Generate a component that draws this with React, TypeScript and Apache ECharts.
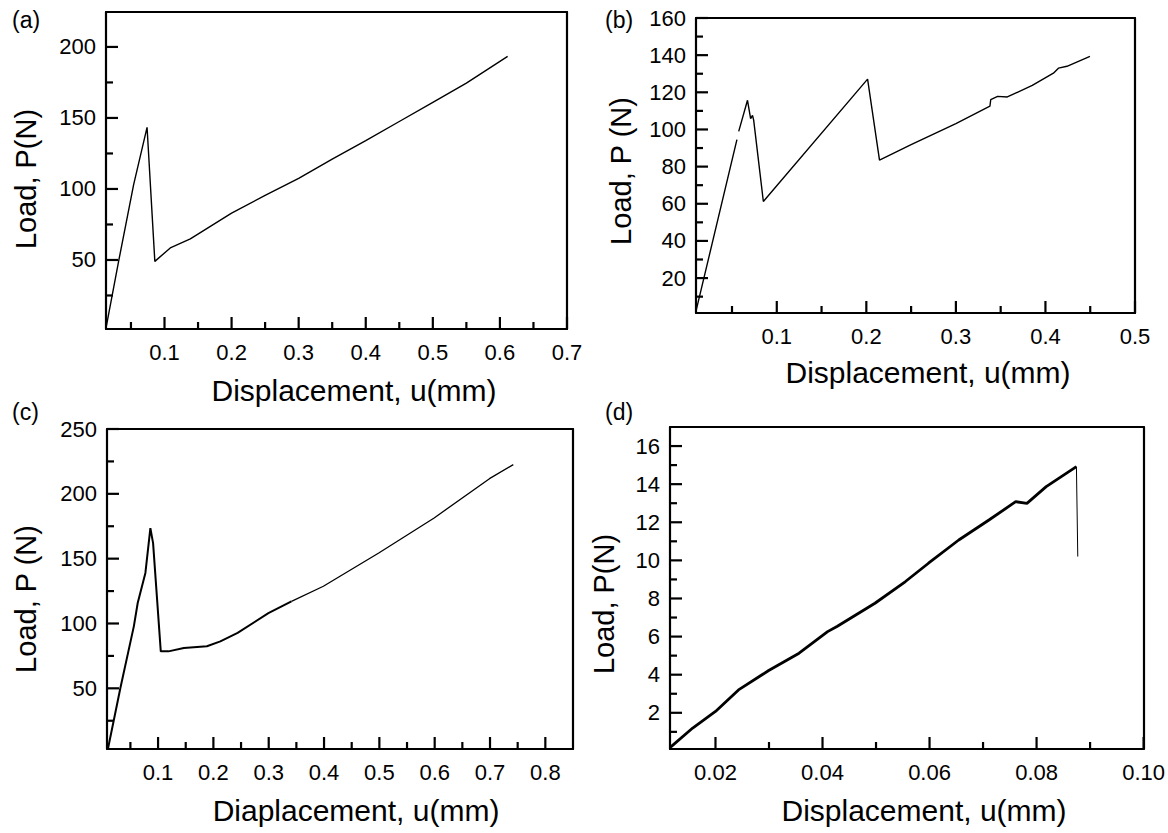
import React, { useEffect, useRef } from "react";
import * as echarts from "echarts";

const FONT = '"Liberation Sans", Arial, Helvetica, sans-serif';

// Panel (a)
const aX = [0.0128, 0.032, 0.054, 0.074, 0.0856, 0.1086, 0.1385, 0.2, 0.25, 0.3, 0.35, 0.4, 0.45, 0.5, 0.55, 0.6115];
const aY = [2, 50, 103, 143.4, 49, 58.5, 64.8, 83, 95.5, 107.5, 121, 134, 147.5, 161, 174.5, 193.4];
const aXTicks = [0.1, 0.2, 0.3, 0.4, 0.5, 0.6, 0.7];
const aXMinor = [0.05, 0.15, 0.25, 0.35, 0.45, 0.55, 0.65];
const aYTicks = [50, 100, 150, 200];
const aYMinor = [25, 75, 125, 175];

// Panel (b)
const bX = [0.0098, 0.0555, 0.0562, 0.0575, 0.0673, 0.0708, 0.0729, 0.0742, 0.085, 0.2014, 0.2147, 0.25, 0.3, 0.338, 0.3389, 0.3466, 0.3574, 0.3853, 0.4089, 0.4145, 0.424, 0.4497];
const bY = [2.2, 94.5, null, 99, 115.7, 105.8, 107.6, 105, 61.2, 127.1, 83.5, 91.8, 103.2, 112.5, 116, 117.8, 117.5, 123.7, 130.3, 133, 134, 139.4];
const bXTicks = [0.1, 0.2, 0.3, 0.4, 0.5];
const bXMinor = [0.05, 0.15, 0.25, 0.35, 0.45];
const bYTicks = [20, 40, 60, 80, 100, 120, 140, 160];
const bYMinor = [10, 30, 50, 70, 90, 110, 130, 150];

// Panel (c) — noisy part first, then the smooth tail
const cX = [0.0097, 0.0319, 0.0562, 0.0632, 0.0771, 0.0861, 0.091, 0.1049, 0.1188, 0.1466, 0.1883, 0.2126, 0.2438, 0.2994, 0.3411, 0.3988, 0.4989, 0.599, 0.699, 0.7421];
const cY = [4, 50.3, 97.8, 115.8, 139, 173.6, 162, 78.5, 78.5, 81.1, 82.4, 86.2, 92.7, 108, 117.1, 128.7, 154.4, 181.4, 211.7, 222.5];
const cNoisyEnd = 15;
const cXTicks = [0.1, 0.2, 0.3, 0.4, 0.5, 0.6, 0.7, 0.8];
const cXMinor = [0.05, 0.15, 0.25, 0.35, 0.45, 0.55, 0.65, 0.75];
const cYTicks = [50, 100, 150, 200, 250];
const cYMinor = [25, 75, 125, 175, 225];

// Panel (d) — last point is the final drop
const dX = [0.0116, 0.01574, 0.02, 0.0243, 0.02994, 0.03562, 0.04095, 0.0427, 0.0498, 0.0555, 0.0598, 0.06546, 0.0711, 0.0761, 0.0782, 0.0818, 0.08745, 0.0877];
const dY = [0.2, 1.2, 2.07, 3.2, 4.22, 5.13, 6.26, 6.53, 7.75, 8.89, 9.85, 11.07, 12.12, 13.08, 12.99, 13.87, 14.92, 10.2];
const dXTicks = [0.02, 0.04, 0.06, 0.08, 0.1];
const dXMinor = [0.03, 0.05, 0.07, 0.09];
const dYTicks = [2, 4, 6, 8, 10, 12, 14, 16];
const dYMinor = [1, 3, 5, 7, 9, 11, 13, 15];

const pairs = (xs: number[], ys: (number | null)[], from = 0, to = xs.length) =>
  xs.slice(from, to).map((x, k) => [x, ys[from + k]]);

const panels = [
  {
    label: "(a)", labelPos: [12, 8], grid: { left: 106, top: 12, width: 461, height: 317 },
    xMin: 0.0128, xMax: 0.7, yMin: 1.4, yMax: 224.6,
    xTicks: aXTicks, xMinor: aXMinor, yTicks: aYTicks, yMinor: aYMinor, xDec: 1,
    lines: [{ data: pairs(aX, aY), w: 1.4 }],
    xTitle: "Displacement, u(mm)", xTitlePos: [354, 390], yTitle: "Load, P(N)", yTitlePos: [26, 179],
  },
  {
    label: "(b)", labelPos: [605, 8], grid: { left: 696, top: 18, width: 439, height: 295 },
    xMin: 0.0098, xMax: 0.5, yMin: 1.2, yMax: 160,
    xTicks: bXTicks, xMinor: bXMinor, yTicks: bYTicks, yMinor: bYMinor, xDec: 1,
    lines: [{ data: pairs(bX, bY), w: 1.4 }],
    xTitle: "Displacement, u(mm)", xTitlePos: [928, 372], yTitle: "Load, P (N)", yTitlePos: [621, 171],
  },
  {
    label: "(c)", labelPos: [12, 400], grid: { left: 107, top: 429, width: 466, height: 320 },
    xMin: 0.0077, xMax: 0.85, yMin: 3.2, yMax: 250,
    xTicks: cXTicks, xMinor: cXMinor, yTicks: cYTicks, yMinor: cYMinor, xDec: 1,
    lines: [{ data: pairs(cX, cY, 0, cNoisyEnd), w: 2 }, { data: pairs(cX, cY, cNoisyEnd - 1), w: 1.3 }],
    xTitle: "Diaplacement, u(mm)", xTitlePos: [356, 810], yTitle: "Load, P (N)", yTitlePos: [26, 599],
  },
  {
    label: "(d)", labelPos: [605, 400], grid: { left: 670, top: 427, width: 480, height: 322 },
    xMin: 0.0115, xMax: 0.1, yMin: 0.1, yMax: 17,
    xTicks: dXTicks, xMinor: dXMinor, yTicks: dYTicks, yMinor: dYMinor, xDec: 2,
    lines: [{ data: pairs(dX, dY, 0, dX.length - 1), w: 2.8 }, { data: pairs(dX, dY, dX.length - 2), w: 1 }],
    xTitle: "Displacement, u(mm)", xTitlePos: [924, 810], yTitle: "Load, P(N)", yTitlePos: [604, 604],
  },
];

export default function App() {
  const ref = useRef<HTMLDivElement>(null);
  useEffect(() => {
    if (!ref.current) return;
    const chart = echarts.init(ref.current, undefined, { renderer: "svg" });
    const black = "#000";
    const LW = 2.2;
    const grid = panels.map((p) => ({ ...p.grid, show: false }));
    const xAxis: any[] = [];
    const yAxis: any[] = [];
    const series: any[] = [];
    const lineAxis = { show: true, onZero: false, lineStyle: { color: black, width: LW } };
    panels.forEach((p, i) => {
      xAxis.push({
        type: "value", gridIndex: i, min: p.xMin, max: p.xMax, position: "bottom",
        axisLine: lineAxis, axisTick: { show: false },
        axisLabel: { show: true, customValues: p.xTicks, margin: 12, color: black, fontSize: 22, fontFamily: FONT, formatter: (v: number) => v.toFixed(p.xDec) },
        splitLine: { show: false },
      });
      xAxis.push({
        type: "value", gridIndex: i, min: p.xMin, max: p.xMax, position: "top",
        axisLine: lineAxis, axisTick: { show: false }, axisLabel: { show: false }, splitLine: { show: false },
      });
      yAxis.push({
        type: "value", gridIndex: i, min: p.yMin, max: p.yMax, position: "left",
        axisLine: lineAxis, axisTick: { show: false },
        axisLabel: { show: true, customValues: p.yTicks, margin: 10, color: black, fontSize: 22, fontFamily: FONT, formatter: (v: number) => String(Math.round(v)) },
        splitLine: { show: false },
      });
      yAxis.push({
        type: "value", gridIndex: i, min: p.yMin, max: p.yMax, position: "right",
        axisLine: lineAxis, axisTick: { show: false }, axisLabel: { show: false }, splitLine: { show: false },
      });
      const xi = 2 * i;
      const yi = 2 * i;
      p.lines.forEach((ln) => {
        series.push({
          type: "line", xAxisIndex: xi, yAxisIndex: yi, data: ln.data,
          showSymbol: false, symbol: "none", silent: true, connectNulls: false,
          lineStyle: { color: black, width: ln.w },
        });
      });
    });
    const graphic: any[] = [];
    panels.forEach((p) => {
      graphic.push({ type: "text", x: p.labelPos[0], y: p.labelPos[1], style: { text: p.label, fill: black, font: `23px ${FONT}`, textAlign: "left", textVerticalAlign: "top" } });
      graphic.push({ type: "text", x: p.xTitlePos[0], y: p.xTitlePos[1], style: { text: p.xTitle, fill: black, font: `30px ${FONT}`, textAlign: "center", textVerticalAlign: "middle" } });
      graphic.push({ type: "text", x: p.yTitlePos[0], y: p.yTitlePos[1], rotation: Math.PI / 2, style: { text: p.yTitle, fill: black, font: `29px ${FONT}`, textAlign: "center", textVerticalAlign: "middle" } });
    });
    chart.setOption({ animation: false, backgroundColor: "#fff", grid, xAxis, yAxis, series, graphic });

    // inward tick marks: positions come from the axes' own scales via convertToPixel
    const tickLines: any[] = [];
    panels.forEach((p, i) => {
      const finder = { xAxisIndex: 2 * i, yAxisIndex: 2 * i };
      const addX = (vals: number[], len: number) => vals.forEach((v) => {
        const pt = chart.convertToPixel(finder as any, [v, p.yMin]) as number[];
        tickLines.push({ type: "line", silent: true, z: 100, shape: { x1: pt[0], y1: pt[1], x2: pt[0], y2: pt[1] - len }, style: { stroke: black, lineWidth: LW } });
      });
      const addY = (vals: number[], len: number) => vals.forEach((v) => {
        const pt = chart.convertToPixel(finder as any, [p.xMin, v]) as number[];
        tickLines.push({ type: "line", silent: true, z: 100, shape: { x1: pt[0], y1: pt[1], x2: pt[0] + len, y2: pt[1] }, style: { stroke: black, lineWidth: LW } });
      });
      addX(p.xTicks, 12); addX(p.xMinor, 7); addY(p.yTicks, 12); addY(p.yMinor, 7);
    });
    chart.setOption({ graphic: [...graphic, ...tickLines] });
    return () => chart.dispose();
  }, []);
  return <div ref={ref} style={{ position: "fixed", left: 0, top: 0, width: 1168, height: 833 }} />;
}
